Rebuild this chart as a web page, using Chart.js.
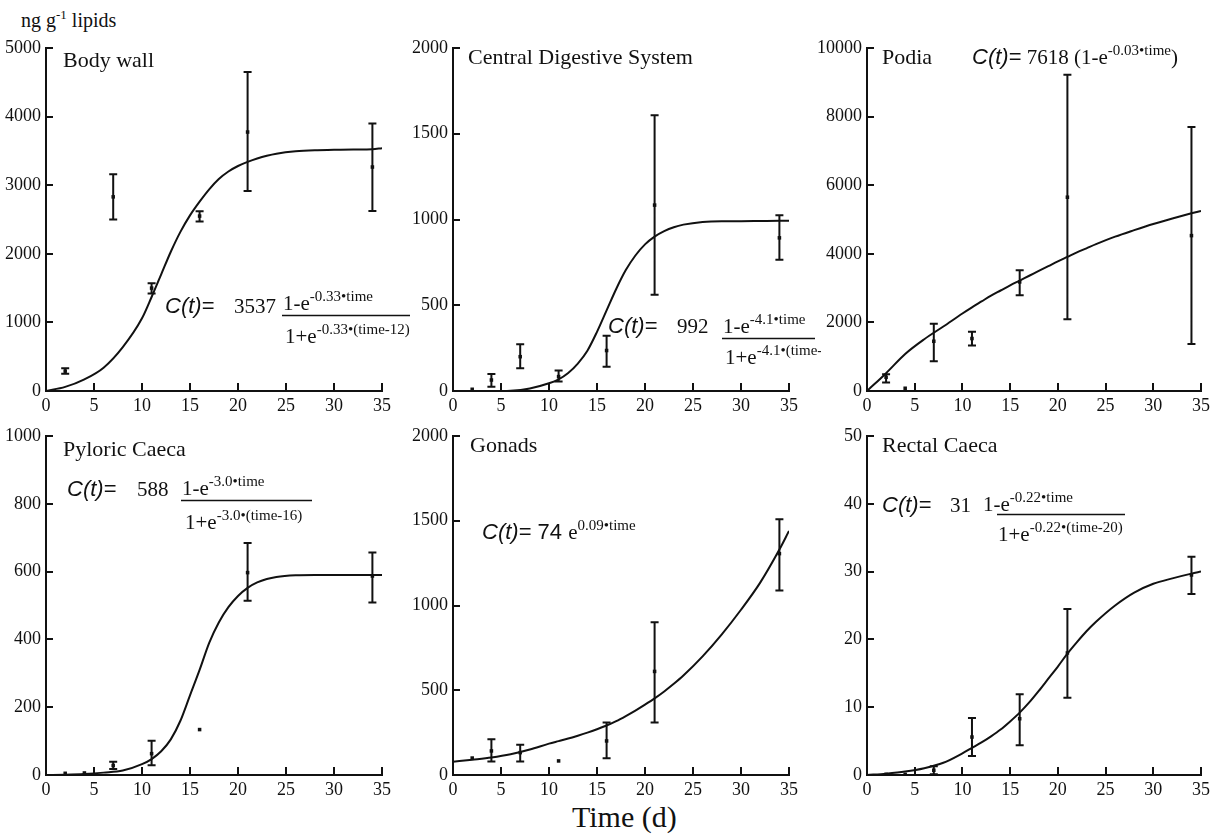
<!DOCTYPE html>
<html>
<head>
<meta charset="utf-8">
<script src="https://cdn.jsdelivr.net/npm/chart.js@4.4.1/dist/chart.umd.min.js"></script>
<style>
    body { margin: 0; background: #fff; width: 1219px; height: 837px; position: relative; overflow: hidden; font-family: "Liberation Serif", "Times New Roman", serif; color: #111; }
    canvas { position: absolute; }
    .label { position: absolute; line-height: 1; white-space: nowrap; }
    #unit { left: 21px; top: 10px; font-size: 20px; }
    #unit sup { font-size: 13px; vertical-align: 8px; line-height: 0; }
    #xtitle { left: 572px; top: 802px; font-size: 30px; }
</style>
</head>
<body>
<div class="label" id="unit">ng g<sup>-1</sup> lipids</div>
<div class="label" id="xtitle">Time (d)</div>

<script>
const SERIF = '"Liberation Serif", "Times New Roman", serif';
const SANS = '"Liberation Sans", Arial, sans-serif';
const ink = '#111';

// days of the fitted curves and of the samples
const fitDays = [0, 2, 4, 6, 8, 10, 11, 12, 13, 14, 15, 16, 17, 18, 19, 20, 21, 22, 23, 24, 26, 28, 30, 32, 34, 35];
const sampleDays = [2, 4, 7, 11, 16, 21, 34];
const bodyWallDays = [2, 7, 11, 16, 21, 34];
const xTicks = [0, 5, 10, 15, 20, 25, 30, 35];

// Body wall
const bodyWallMean = [290, 2830, 1500, 2550, 3775, 3265];
const bodyWallLow  = [250, 2500, 1420, 2470, 2915, 2625];
const bodyWallHigh = [330, 3160, 1570, 2620, 4650, 3900];
const bodyWallFit  = [0, 60, 170, 340, 640, 1060, 1370, 1700, 2030, 2320, 2560, 2760, 2940, 3090, 3200, 3280, 3340, 3390, 3430, 3460, 3495, 3510, 3515, 3520, 3525, 3540];

// Central Digestive System
const cdsMean = [10, 64, 200, 84, 236, 1084, 893];
const cdsLow  = [10, 25, 133, 55, 142, 561, 766];
const cdsHigh = [10, 99, 273, 119, 322, 1608, 1025];
const cdsFit  = [0, 0, 0, 2, 15, 45, 68, 105, 160, 235, 345, 470, 595, 705, 790, 855, 900, 932, 955, 970, 986, 990, 990, 991, 992, 992];

// Podia
const podiaMean = [400, 80, 1450, 1530, 3180, 5650, 4530];
const podiaLow  = [250, 80, 870, 1330, 2790, 2090, 1370];
const podiaHigh = [490, 80, 1960, 1730, 3520, 9220, 7700];
const podiaFit  = [0, 520, 1080, 1510, 1880, 2260, 2440, 2610, 2780, 2930, 3080, 3220, 3360, 3500, 3640, 3780, 3910, 4040, 4160, 4280, 4500, 4690, 4870, 5030, 5180, 5250];

// Pyloric Caeca
const pyloricMean = [5, 6, 28, 63, 134, 597, 587];
const pyloricLow  = [5, 6, 18, 29, 134, 514, 509];
const pyloricHigh = [5, 6, 39, 101, 134, 684, 656];
const pyloricFit  = [0, 1, 3, 7, 13, 32, 47, 70, 105, 160, 235, 310, 390, 450, 495, 528, 552, 568, 578, 584, 589, 590, 590, 590, 590, 590];

// Gonads
const gonadsMean = [100, 142, 132, 83, 201, 611, 1306];
const gonadsLow  = [100, 79, 79, 83, 99, 310, 1089];
const gonadsHigh = [100, 211, 178, 83, 310, 901, 1509];
const gonadsFit  = [78, 90, 103, 122, 150, 185, 200, 215, 232, 250, 270, 292, 318, 348, 380, 415, 452, 493, 538, 587, 700, 830, 975, 1135, 1330, 1440];

// Rectal Caeca
const rectalMean = [0.1, 0.1, 0.7, 5.6, 8.3, 18.0, 29.5];
const rectalLow  = [0.1, 0.1, 0.1, 2.8, 4.4, 11.4, 26.7];
const rectalHigh = [0.1, 0.1, 1.3, 8.4, 11.9, 24.5, 32.2];
const rectalFit  = [0, 0.2, 0.5, 1.0, 1.8, 3.2, 4.0, 4.8, 5.7, 6.7, 7.9, 9.2, 10.7, 12.4, 14.2, 16.0, 17.9, 19.6, 21.2, 22.6, 25.0, 26.9, 28.2, 29.0, 29.7, 30.0];

// area = [left, top, right, bottom] of the plot area on the page
const panels = [
    { area: [46, 48, 382, 391], yMax: 5000, yStep: 1000, days: bodyWallDays,
      mean: bodyWallMean, low: bodyWallLow, high: bodyWallHigh, fit: bodyWallFit,
      texts: [
          { x: 63, y: 67, runs: [['Body wall', 't']] },
          { x: 165, y: 313, runs: [['C(t)', 'i'], ['=', 'a']] },
          { x: 234, y: 313, runs: [['3537', 'n']] },
          { x: 283, y: 310, runs: [['1-e', 'n'], ['-0.33•time', 's']] },
          { x: 285, y: 343, runs: [['1+e', 'n'], ['-0.33•(time-12)', 's']] }
      ],
      rules: [[282, 410, 315]] },
    { area: [453, 48, 789, 391], yMax: 2000, yStep: 500, days: sampleDays,
      mean: cdsMean, low: cdsLow, high: cdsHigh, fit: cdsFit,
      texts: [
          { x: 468, y: 64, runs: [['Central Digestive System', 't']] },
          { x: 608, y: 333, runs: [['C(t)', 'i'], ['=', 'a']] },
          { x: 677, y: 333, runs: [['992', 'n']] },
          { x: 723, y: 333, runs: [['1-e', 'n'], ['-4.1•time', 's']] },
          { x: 725, y: 364, runs: [['1+e', 'n'], ['-4.1•(time-16)', 's']] }
      ],
      rules: [[722, 815, 338]] },
    { area: [867, 48, 1201, 391], yMax: 10000, yStep: 2000, days: sampleDays,
      mean: podiaMean, low: podiaLow, high: podiaHigh, fit: podiaFit,
      texts: [
          { x: 882, y: 64, runs: [['Podia', 't']] },
          { x: 972, y: 64, runs: [['C(t)', 'i'], ['=', 'a'], [' 7618 (1-e', 'n'], ['-0.03•time', 's'], [')', 'n']] }
      ],
      rules: [] },
    { area: [46, 436, 382, 775], yMax: 1000, yStep: 200, days: sampleDays,
      mean: pyloricMean, low: pyloricLow, high: pyloricHigh, fit: pyloricFit,
      texts: [
          { x: 63, y: 456, runs: [['Pyloric Caeca', 't']] },
          { x: 67, y: 496, runs: [['C(t)', 'i'], ['=', 'a']] },
          { x: 137, y: 496, runs: [['588', 'n']] },
          { x: 182, y: 495, runs: [['1-e', 'n'], ['-3.0•time', 's']] },
          { x: 185, y: 529, runs: [['1+e', 'n'], ['-3.0•(time-16)', 's']] }
      ],
      rules: [[181, 312, 500]] },
    { area: [453, 436, 789, 775], yMax: 2000, yStep: 500, days: sampleDays,
      mean: gonadsMean, low: gonadsLow, high: gonadsHigh, fit: gonadsFit,
      texts: [
          { x: 470, y: 452, runs: [['Gonads', 't']] },
          { x: 482, y: 539, runs: [['C(t)', 'i'], ['= 74 ', 'a'], ['e', 'n'], ['0.09•time', 's']] }
      ],
      rules: [] },
    { area: [867, 436, 1201, 775], yMax: 50, yStep: 10, days: sampleDays,
      mean: rectalMean, low: rectalLow, high: rectalHigh, fit: rectalFit,
      texts: [
          { x: 882, y: 452, runs: [['Rectal Caeca', 't']] },
          { x: 882, y: 512, runs: [['C(t)', 'i'], ['=', 'a']] },
          { x: 950, y: 512, runs: [['31', 'n']] },
          { x: 983, y: 511, runs: [['1-e', 'n'], ['-0.22•time', 's']] },
          { x: 998, y: 541, runs: [['1+e', 'n'], ['-0.22•(time-20)', 's']] }
      ],
      rules: [[997, 1125, 514]] }
];

const yBox = 60, xBox = 30, padTop = 20, padRight = 32;

const runFonts = {
    t: '22px ' + SERIF,
    n: '21px ' + SERIF,
    s: '15px ' + SERIF,
    i: 'italic 22px ' + SANS,
    a: '22px ' + SANS
};

function drawRuns(ctx, x, y, runs) {
    runs.forEach(([text, kind]) => {
        ctx.font = runFonts[kind];
        ctx.fillText(text, x, kind === 's' ? y - 9 : y);
        x += ctx.measureText(text).width;
    });
}

// inward ticks, error bars and the panel texts
function panelDecor(panel, ox, oy) {
    return {
        id: 'panelDecor',
        afterDatasetsDraw(chart) {
            const ctx = chart.ctx;
            const xs = chart.scales.x, ys = chart.scales.y;
            const a = chart.chartArea;
            ctx.save();
            ctx.strokeStyle = ink;
            ctx.lineWidth = 2;
            ctx.beginPath();
            ys.ticks.forEach(t => {
                const py = Math.round(ys.getPixelForValue(t.value));
                ctx.moveTo(a.left, py);
                ctx.lineTo(a.left + 7, py);
            });
            xs.ticks.forEach(t => {
                const px = Math.round(xs.getPixelForValue(t.value));
                ctx.moveTo(px, a.bottom);
                ctx.lineTo(px, a.bottom - 8);
            });
            ctx.stroke();

            ctx.beginPath();
            panel.days.forEach((d, i) => {
                if (panel.high[i] === panel.low[i]) return;
                const px = xs.getPixelForValue(d);
                const hi = ys.getPixelForValue(panel.high[i]);
                const lo = ys.getPixelForValue(panel.low[i]);
                ctx.moveTo(px, hi); ctx.lineTo(px, lo);
                ctx.moveTo(px - 4, hi); ctx.lineTo(px + 4, hi);
                ctx.moveTo(px - 4, lo); ctx.lineTo(px + 4, lo);
            });
            ctx.stroke();

            ctx.fillStyle = ink;
            ctx.textAlign = 'left';
            ctx.textBaseline = 'alphabetic';
            panel.texts.forEach(t => drawRuns(ctx, t.x - ox, t.y - oy, t.runs));
            ctx.lineWidth = 1.5;
            ctx.beginPath();
            panel.rules.forEach(([x1, x2, y]) => {
                ctx.moveTo(x1 - ox, y - oy + 0.5);
                ctx.lineTo(x2 - ox, y - oy + 0.5);
            });
            ctx.stroke();
            ctx.restore();
        }
    };
}

panels.forEach(panel => {
    const [l, t, r, b] = panel.area;
    const ox = l - yBox, oy = t - padTop;
    const canvas = document.createElement('canvas');
    canvas.width = r - l + yBox + padRight;
    canvas.height = b - t + padTop + xBox;
    canvas.style.left = ox + 'px';
    canvas.style.top = oy + 'px';
    document.body.appendChild(canvas);

    new Chart(canvas.getContext('2d'), {
        type: 'scatter',
        data: {
            datasets: [{
                data: fitDays.map((d, i) => ({ x: d, y: panel.fit[i] })),
                showLine: true,
                borderColor: ink,
                borderWidth: 2,
                pointRadius: 0,
                cubicInterpolationMode: 'monotone'
            }, {
                data: panel.days.map((d, i) => ({ x: d, y: panel.mean[i] })),
                showLine: false,
                pointStyle: 'rect',
                pointRadius: 2.5,
                backgroundColor: ink,
                borderWidth: 0
            }]
        },
        options: {
            responsive: false,
            animation: false,
            layout: { autoPadding: false, padding: { left: 0, top: padTop, right: padRight, bottom: 0 } },
            plugins: { legend: { display: false }, tooltip: { enabled: false } },
            scales: {
                x: {
                    type: 'linear',
                    min: 0,
                    max: 35,
                    afterFit: s => { s.height = xBox; },
                    afterBuildTicks: s => { s.ticks = xTicks.map(v => ({ value: v })); },
                    grid: { display: false, drawTicks: false },
                    border: { display: true, color: ink, width: 2 },
                    ticks: { color: ink, padding: 4, maxRotation: 0, font: { family: SERIF, size: 18 } }
                },
                y: {
                    min: 0,
                    max: panel.yMax,
                    afterFit: s => { s.width = yBox; },
                    grid: { display: false, drawTicks: false },
                    border: { display: true, color: ink, width: 2 },
                    ticks: {
                        stepSize: panel.yStep,
                        color: ink,
                        padding: 5,
                        font: { family: SERIF, size: 18 },
                        callback: v => String(v)
                    }
                }
            }
        },
        plugins: [panelDecor(panel, ox, oy)]
    });
});
</script>
</body>
</html>
